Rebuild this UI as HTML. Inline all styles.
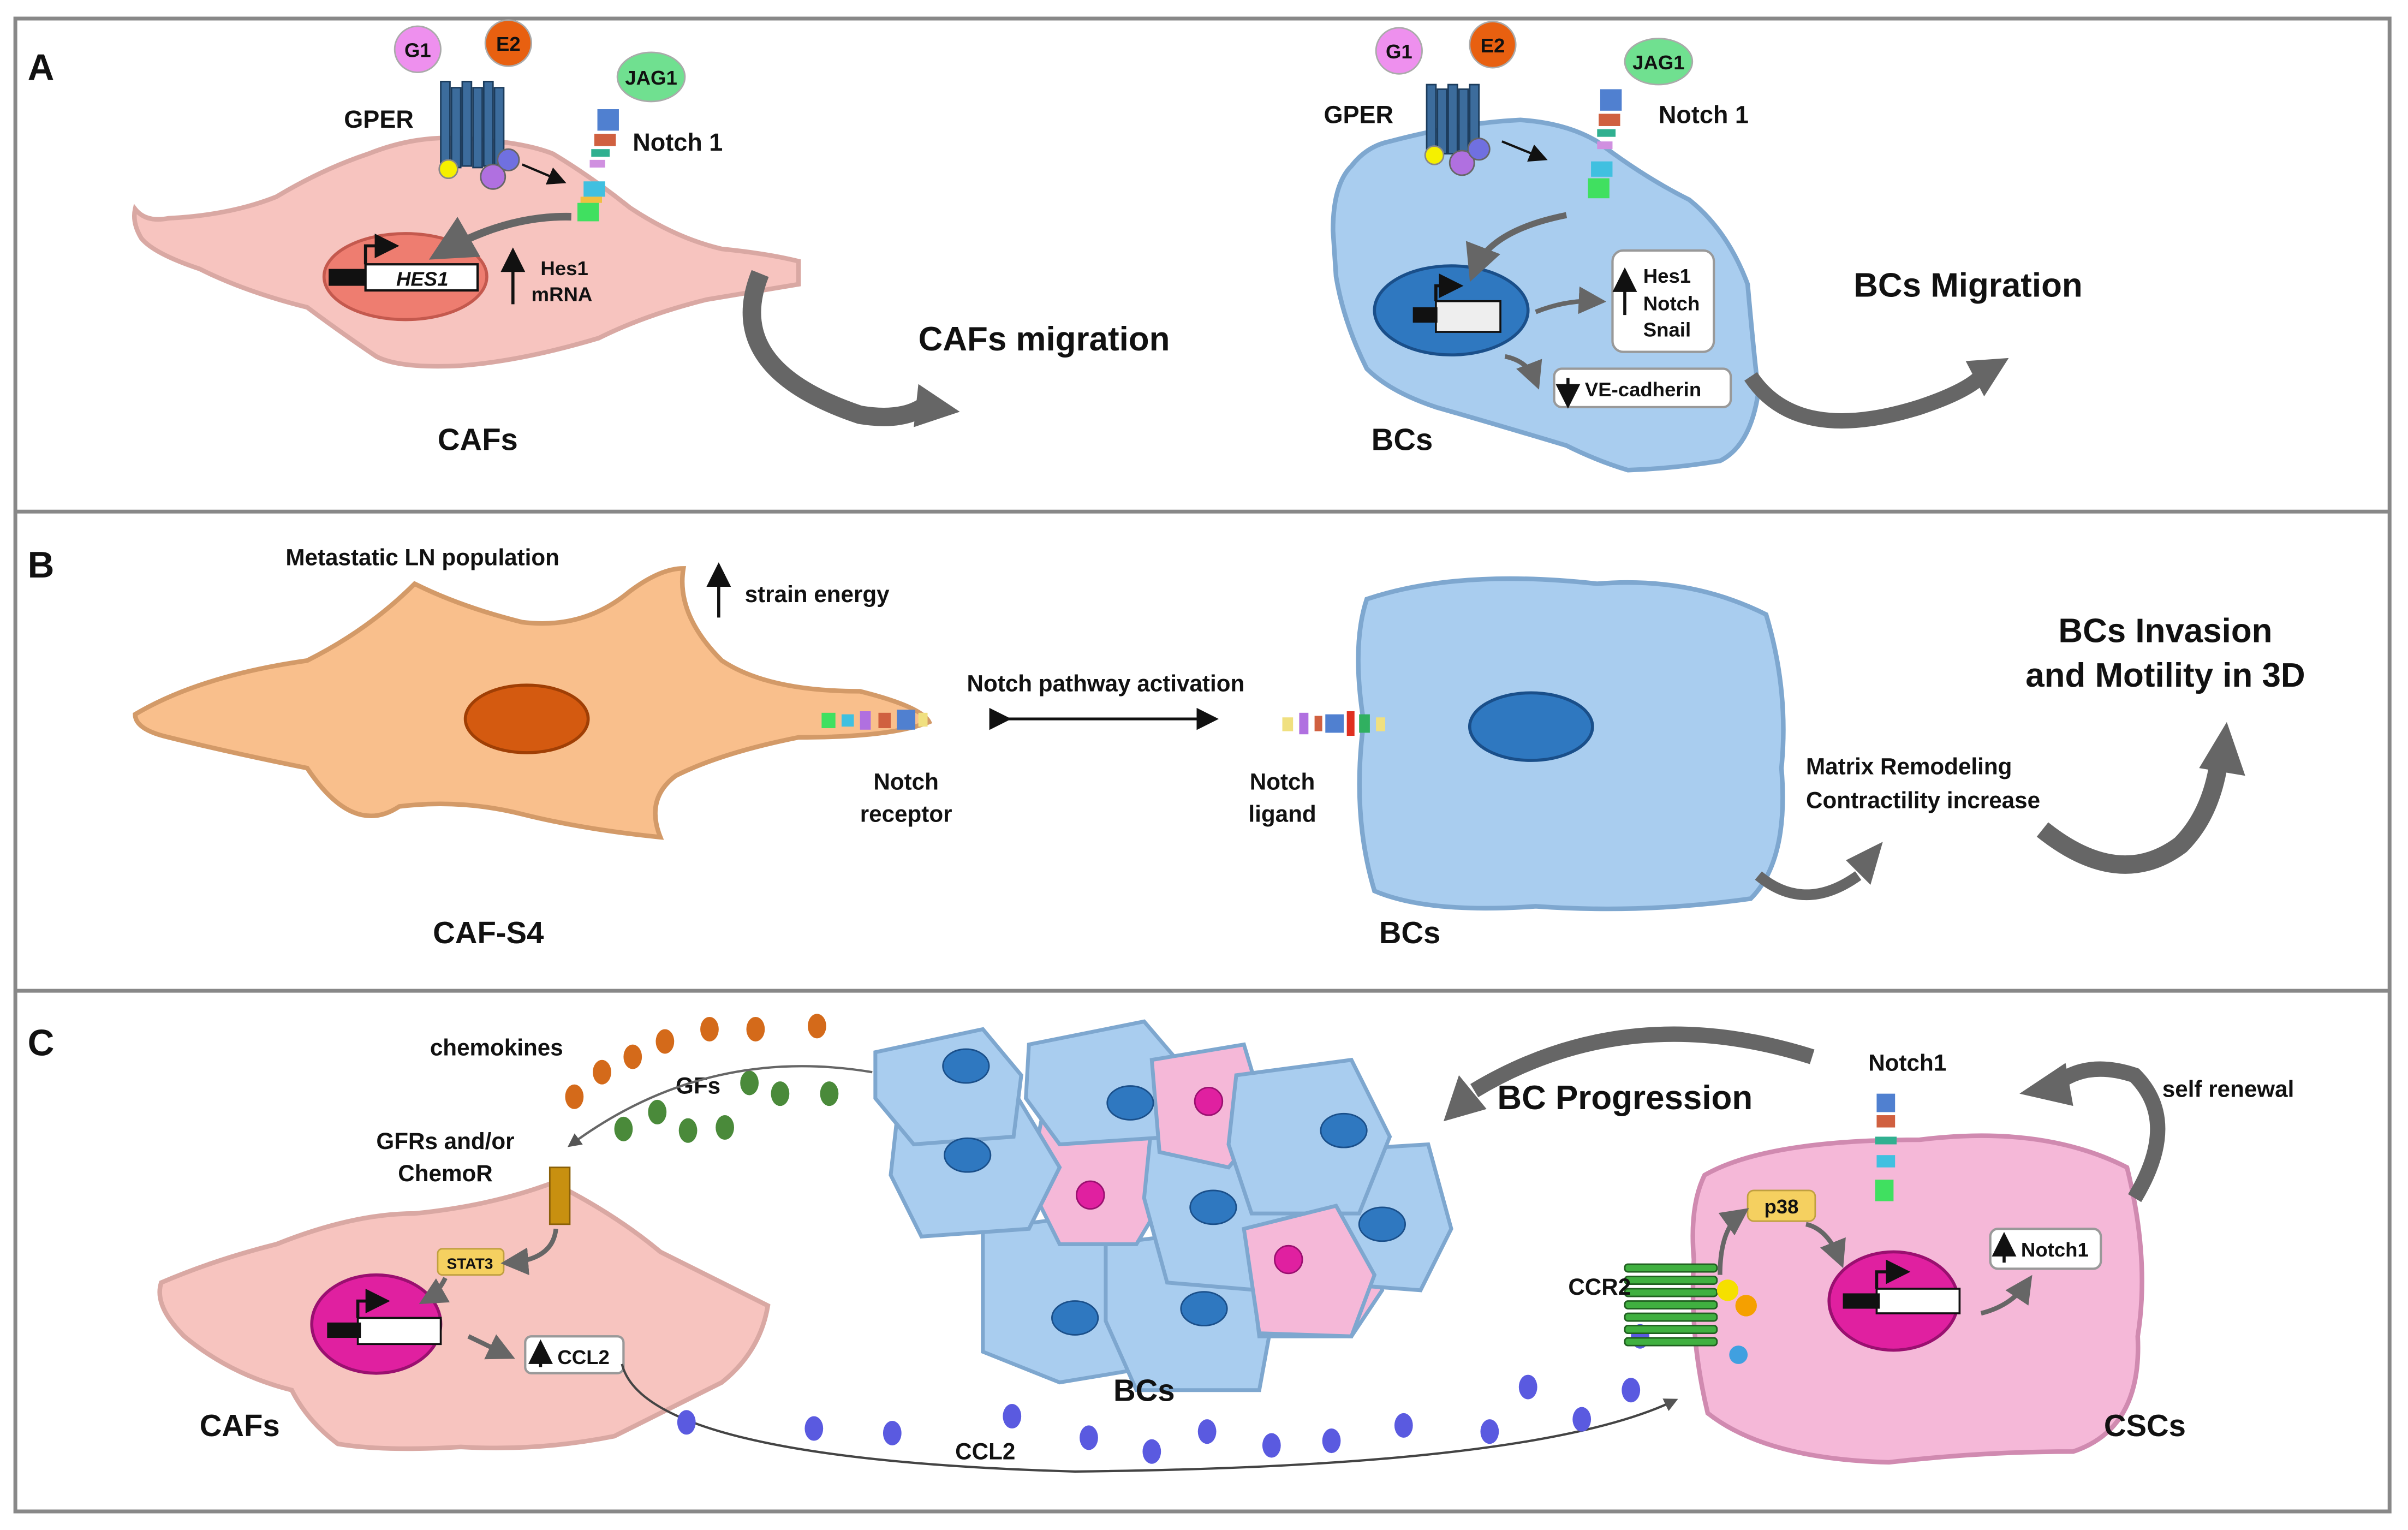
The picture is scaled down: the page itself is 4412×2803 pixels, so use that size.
<!DOCTYPE html>
<html><head><meta charset="utf-8"><style>
html,body{margin:0;padding:0;background:#fff;}
svg{display:block;}
text{font-family:"Liberation Sans",Arial,sans-serif;font-weight:bold;fill:#111;}
</style></head><body>
<svg width="4412" height="2803" viewBox="0 0 1568 996" xmlns="http://www.w3.org/2000/svg">
<defs>
<marker id="ah" markerWidth="8" markerHeight="8" refX="6" refY="4" orient="auto"><path d="M0,0 L8,4 L0,8 z" fill="#111"/></marker>
<marker id="ahg" markerWidth="6" markerHeight="6" refX="4" refY="3" orient="auto"><path d="M0,0 L6,3 L0,6 z" fill="#666"/></marker>
<marker id="ahs" markerWidth="6" markerHeight="6" refX="4" refY="3" orient="auto"><path d="M0,0 L6,3 L0,6 z" fill="#555"/></marker>
</defs>
<rect x="0" y="0" width="1568" height="996" fill="#fff"/>
<rect x="10" y="12" width="1546" height="972" fill="none" stroke="#888" stroke-width="2.5"/>
<line x1="10" y1="333" x2="1556" y2="333" stroke="#888" stroke-width="2.5"/>
<line x1="10" y1="645" x2="1556" y2="645" stroke="#888" stroke-width="2.5"/>

<!-- Panel A -->
<text x="18" y="52" font-size="24">A</text>
<path d="M88,136 Q95,145 110,142 Q150,140 180,128 Q210,110 240,100 Q270,88 300,90 Q340,92 360,100 Q385,115 410,135 Q440,155 470,162 Q500,165 520,170 L520,185 Q490,190 460,195 Q420,205 390,220 Q340,235 300,238 Q260,240 245,232 Q220,215 200,200 Q160,190 130,175 Q100,165 92,155 Q86,145 88,136 Z" fill="#f7c4bf" stroke="#d9a8a3" stroke-width="3"/>
<ellipse cx="264" cy="180" rx="53" ry="28" fill="#ee7d70" stroke="#c4594e" stroke-width="2"/>
<rect x="238" y="172" width="73" height="17" fill="#fff" stroke="#111" stroke-width="1.5"/>
<rect x="214" y="175" width="24" height="11" fill="#111"/>
<path d="M238,172 V160 H256" stroke="#111" stroke-width="2" fill="none" marker-end="url(#ah)"/>
<text x="275" y="186" font-size="13" font-style="italic" text-anchor="middle">HES1</text>
<line x1="334" y1="198" x2="334" y2="165" stroke="#111" stroke-width="2" marker-end="url(#ah)"/>
<text x="352" y="179" font-size="13">Hes1</text>
<text x="346" y="196" font-size="13">mRNA</text>
<path d="M372,141 Q330,140 288,164" stroke="#666" stroke-width="5" fill="none" marker-end="url(#ahg)"/>
<!-- GPER -->
<g fill="#3c6c9c" stroke="#1c3c5c" stroke-width="1">
<rect x="287" y="53" width="6" height="55"/><rect x="294" y="57" width="6" height="52"/><rect x="301" y="53" width="6" height="55"/><rect x="308" y="57" width="6" height="52"/><rect x="315" y="53" width="6" height="55"/><rect x="322" y="57" width="6" height="50"/></g>
<circle cx="292" cy="110" r="6" fill="#f5f000" stroke="#888"/>
<circle cx="321" cy="115" r="8" fill="#b070e0" stroke="#666"/>
<circle cx="331" cy="104" r="7" fill="#7070e0" stroke="#666"/>
<line x1="340" y1="107" x2="366" y2="118" stroke="#111" stroke-width="1.5" marker-end="url(#ah)"/>
<text x="224" y="83" font-size="16">GPER</text>
<circle cx="272" cy="32" r="15" fill="#ee90ee" stroke="#aaa"/><text x="272" y="37" font-size="13" text-anchor="middle">G1</text>
<circle cx="331" cy="28" r="15" fill="#e86010" stroke="#aaa"/><text x="331" y="33" font-size="13" text-anchor="middle">E2</text>
<ellipse cx="424" cy="50" rx="22" ry="16" fill="#70e090" stroke="#aaa"/><text x="424" y="55" font-size="13" text-anchor="middle">JAG1</text>
<g><rect x="389" y="71" width="14" height="14" fill="#5080d0"/><rect x="387" y="87" width="14" height="8" fill="#d06040"/><rect x="385" y="97" width="12" height="5" fill="#30b090"/><rect x="384" y="104" width="10" height="5" fill="#d090e0"/><rect x="380" y="118" width="14" height="10" fill="#40c0e0"/><rect x="378" y="128" width="14" height="4" fill="#f0c040"/><rect x="376" y="132" width="14" height="12" fill="#40e060"/></g>
<text x="412" y="98" font-size="16">Notch 1</text>
<text x="285" y="293" font-size="20">CAFs</text>
<path d="M495,178 Q470,240 560,270 Q590,275 605,262" stroke="#666" stroke-width="12" fill="none"/>
<path d="M598,250 L625,268 L595,278 Z" fill="#666"/>
<text x="598" y="228" font-size="22">CAFs migration</text>

<path d="M868,150 Q868,120 880,108 Q890,95 905,92 Q950,80 990,78 Q1020,80 1040,92 Q1070,115 1100,130 Q1125,150 1138,185 Q1142,230 1145,255 Q1140,290 1120,300 Q1090,305 1060,306 Q1040,300 1020,290 Q970,275 935,265 Q905,255 890,240 Q875,210 870,180 Z" fill="#a9cdef" stroke="#7ea7cf" stroke-width="3"/>
<ellipse cx="945" cy="202" rx="50" ry="29" fill="#2f78c0" stroke="#1a4f8a" stroke-width="2"/>
<rect x="935" y="196" width="42" height="20" fill="#eee" stroke="#111" stroke-width="1.3"/>
<rect x="920" y="200" width="16" height="10" fill="#111"/>
<path d="M935,196 V186 H949" stroke="#111" stroke-width="2" fill="none" marker-end="url(#ah)"/>
<g fill="#3c6c9c" stroke="#1c3c5c" stroke-width="1"><rect x="929" y="55" width="6" height="45"/><rect x="936" y="58" width="6" height="42"/><rect x="943" y="55" width="6" height="45"/><rect x="950" y="58" width="6" height="42"/><rect x="957" y="55" width="6" height="45"/></g>
<circle cx="934" cy="101" r="6" fill="#f5f000" stroke="#888"/><circle cx="952" cy="106" r="8" fill="#b070e0" stroke="#666"/><circle cx="963" cy="97" r="7" fill="#7070e0" stroke="#666"/>
<line x1="978" y1="92" x2="1005" y2="103" stroke="#111" stroke-width="1.5" marker-end="url(#ah)"/>
<text x="862" y="80" font-size="16">GPER</text>
<circle cx="911" cy="33" r="15" fill="#ee90ee" stroke="#aaa"/><text x="911" y="38" font-size="13" text-anchor="middle">G1</text>
<circle cx="972" cy="29" r="15" fill="#e86010" stroke="#aaa"/><text x="972" y="34" font-size="13" text-anchor="middle">E2</text>
<ellipse cx="1080" cy="40" rx="22" ry="15" fill="#70e090" stroke="#aaa"/><text x="1080" y="45" font-size="13" text-anchor="middle">JAG1</text>
<g><rect x="1042" y="58" width="14" height="14" fill="#5080d0"/><rect x="1041" y="74" width="14" height="8" fill="#d06040"/><rect x="1040" y="84" width="12" height="5" fill="#30b090"/><rect x="1040" y="92" width="10" height="5" fill="#d090e0"/><rect x="1036" y="105" width="14" height="10" fill="#40c0e0"/><rect x="1034" y="116" width="14" height="13" fill="#40e060"/></g>
<text x="1080" y="80" font-size="16">Notch 1</text>
<path d="M1020,140 Q970,150 960,176" stroke="#666" stroke-width="4" fill="none" marker-end="url(#ahg)"/>
<rect x="1050" y="163" width="66" height="66" rx="7" fill="#fff" stroke="#999" stroke-width="1.5"/>
<line x1="1058" y1="205" x2="1058" y2="178" stroke="#111" stroke-width="2" marker-end="url(#ah)"/>
<text x="1070" y="184" font-size="13">Hes1</text><text x="1070" y="202" font-size="13">Notch</text><text x="1070" y="219" font-size="13">Snail</text>
<path d="M1000,203 Q1020,195 1040,196" stroke="#666" stroke-width="3" fill="none" marker-end="url(#ahg)"/>
<rect x="1012" y="240" width="115" height="25" rx="5" fill="#fff" stroke="#999" stroke-width="1.5"/>
<line x1="1021" y1="246" x2="1021" y2="262" stroke="#111" stroke-width="2" marker-end="url(#ah)"/>
<text x="1032" y="258" font-size="13">VE-cadherin</text>
<path d="M980,232 Q995,235 1000,248" stroke="#666" stroke-width="3" fill="none" marker-end="url(#ahg)"/>
<text x="893" y="293" font-size="20">BCs</text>
<path d="M1140,245 Q1170,290 1250,265 Q1280,255 1290,245" stroke="#666" stroke-width="10" fill="none"/>
<path d="M1280,235 L1308,233 L1292,258 Z" fill="#666"/>
<text x="1207" y="193" font-size="22">BCs Migration</text>

<!-- Panel B -->
<text x="18" y="376" font-size="24">B</text>
<text x="186" y="368" font-size="15">Metastatic LN population</text>
<line x1="468" y1="402" x2="468" y2="370" stroke="#111" stroke-width="2" marker-end="url(#ah)"/>
<text x="485" y="392" font-size="15">strain energy</text>
<path d="M88,465 Q130,440 200,430 Q240,410 270,380 Q300,395 340,405 Q380,410 410,385 Q430,370 445,370 Q440,400 470,430 Q500,450 560,450 Q600,460 605,470 Q580,480 520,480 Q470,490 440,505 Q420,520 430,545 Q380,540 340,530 Q300,520 260,525 Q230,545 200,500 Q150,490 110,480 Q88,475 88,465 Z" fill="#f9bf8c" stroke="#d39a68" stroke-width="3"/>
<ellipse cx="343" cy="468" rx="40" ry="22" fill="#d45a10" stroke="#a03f05" stroke-width="2"/>
<g><rect x="535" y="464" width="9" height="10" fill="#40e060"/><rect x="548" y="465" width="8" height="8" fill="#40c0e0"/><rect x="560" y="463" width="7" height="12" fill="#b070e0"/><rect x="572" y="464" width="8" height="10" fill="#d06040"/><rect x="584" y="462" width="12" height="13" fill="#5080d0"/><rect x="598" y="464" width="6" height="9" fill="#f0e080"/></g>
<text x="590" y="514" font-size="15" text-anchor="middle">Notch</text>
<text x="590" y="535" font-size="15" text-anchor="middle">receptor</text>
<text x="720" y="450" font-size="15" text-anchor="middle">Notch pathway activation</text>
<line x1="655" y1="468" x2="790" y2="468" stroke="#111" stroke-width="1.8" marker-end="url(#ah)" marker-start="url(#ah)"/>
<path d="M890,390 Q950,370 1040,380 Q1100,375 1150,400 Q1165,450 1160,500 Q1165,560 1140,585 Q1070,595 1000,590 Q930,595 895,580 Q880,530 888,470 Q880,420 890,390 Z" fill="#a9cdef" stroke="#7ea7cf" stroke-width="3"/>
<ellipse cx="997" cy="473" rx="40" ry="22" fill="#2f78c0" stroke="#1a4f8a" stroke-width="2"/>
<g><rect x="835" y="467" width="7" height="9" fill="#f0e080"/><rect x="846" y="464" width="6" height="14" fill="#b070e0"/><rect x="856" y="466" width="5" height="10" fill="#d06040"/><rect x="863" y="465" width="12" height="12" fill="#5080d0"/><rect x="877" y="463" width="5" height="16" fill="#e03020"/><rect x="885" y="465" width="7" height="12" fill="#30b060"/><rect x="896" y="467" width="6" height="9" fill="#f0e080"/></g>
<text x="835" y="514" font-size="15" text-anchor="middle">Notch</text>
<text x="835" y="535" font-size="15" text-anchor="middle">ligand</text>
<text x="918" y="614" font-size="20" text-anchor="middle">BCs</text>
<text x="318" y="614" font-size="20" text-anchor="middle">CAF-S4</text>
<path d="M1145,570 Q1175,595 1210,570" stroke="#666" stroke-width="7" fill="none"/>
<path d="M1202,560 L1226,548 L1218,576 Z" fill="#666"/>
<text x="1176" y="504" font-size="15">Matrix Remodeling</text>
<text x="1176" y="526" font-size="15">Contractility increase</text>
<path d="M1330,540 Q1380,580 1420,550 Q1440,530 1445,495" stroke="#666" stroke-width="12" fill="none"/>
<path d="M1432,500 L1450,470 L1462,505 Z" fill="#666"/>
<text x="1410" y="418" font-size="22" text-anchor="middle">BCs Invasion</text>
<text x="1410" y="447" font-size="22" text-anchor="middle">and Motility in 3D</text>

<!-- Panel C -->
<text x="18" y="687" font-size="24">C</text>
<text x="280" y="687" font-size="15">chemokines</text>
<text x="440" y="712" font-size="15">GFs</text>
<text x="290" y="748" font-size="15" text-anchor="middle">GFRs and/or</text>
<text x="290" y="769" font-size="15" text-anchor="middle">ChemoR</text>
<g fill="#d46a1a"><ellipse cx="374" cy="714" rx="6" ry="8"/><ellipse cx="392" cy="698" rx="6" ry="8"/><ellipse cx="412" cy="688" rx="6" ry="8"/><ellipse cx="433" cy="678" rx="6" ry="8"/><ellipse cx="462" cy="670" rx="6" ry="8"/><ellipse cx="492" cy="670" rx="6" ry="8"/><ellipse cx="532" cy="668" rx="6" ry="8"/></g>
<g fill="#4a8a3a"><ellipse cx="406" cy="735" rx="6" ry="8"/><ellipse cx="428" cy="724" rx="6" ry="8"/><ellipse cx="448" cy="736" rx="6" ry="8"/><ellipse cx="472" cy="734" rx="6" ry="8"/><ellipse cx="488" cy="705" rx="6" ry="8"/><ellipse cx="508" cy="712" rx="6" ry="8"/><ellipse cx="540" cy="712" rx="6" ry="8"/></g>
<path d="M568,698 Q460,680 372,745" stroke="#666" stroke-width="1.5" fill="none" marker-end="url(#ahs)"/>
<path d="M105,835 Q140,820 180,810 Q230,790 270,790 Q320,785 360,770 Q400,790 430,815 Q470,835 500,850 Q495,880 470,900 Q430,920 400,935 Q350,945 300,942 Q250,945 220,940 Q200,925 190,905 Q150,895 120,870 Q100,850 105,835 Z" fill="#f7c4bf" stroke="#d9a8a3" stroke-width="3"/>
<rect x="358" y="760" width="13" height="37" fill="#c89010" stroke="#8a6008"/>
<ellipse cx="245" cy="862" rx="42" ry="32" fill="#e020a0" stroke="#9a1070" stroke-width="2"/>
<rect x="233" y="858" width="54" height="17" fill="#fff" stroke="#111" stroke-width="1.3"/>
<rect x="213" y="861" width="22" height="10" fill="#111"/>
<path d="M233,858 V847 H250" stroke="#111" stroke-width="2" fill="none" marker-end="url(#ah)"/>
<rect x="285" y="813" width="43" height="17" rx="3" fill="#f5d060" stroke="#c0a040"/><text x="306" y="826" font-size="10" text-anchor="middle">STAT3</text>
<path d="M362,800 Q360,820 332,822" stroke="#666" stroke-width="3" fill="none" marker-end="url(#ahg)"/>
<path d="M290,832 Q285,842 278,846" stroke="#666" stroke-width="3" fill="none" marker-end="url(#ahg)"/>
<path d="M305,870 L330,882" stroke="#666" stroke-width="3" fill="none" marker-end="url(#ahg)"/>
<rect x="342" y="870" width="64" height="24" rx="4" fill="#fff" stroke="#999" stroke-width="1.5"/>
<line x1="352" y1="890" x2="352" y2="876" stroke="#111" stroke-width="2" marker-end="url(#ah)"/>
<text x="363" y="888" font-size="13">CCL2</text>
<text x="130" y="935" font-size="20">CAFs</text>
<!-- BCs cluster -->
<g stroke="#7ea7cf" stroke-width="2.5">
<path d="M640,800 L720,790 L760,830 L750,890 L690,900 L640,880 Z" fill="#a9cdef"/>
<path d="M720,810 L800,800 L830,850 L820,905 L740,905 L720,860 Z" fill="#a9cdef"/>
<path d="M810,790 L880,780 L900,840 L880,870 L820,870 Z" fill="#f5b8d8"/>
<path d="M680,720 L750,705 L770,760 L740,810 L690,810 L670,770 Z" fill="#f5b8d8"/>
<path d="M750,730 L830,720 L850,780 L820,840 L760,835 L745,780 Z" fill="#a9cdef"/>
<path d="M850,750 L930,745 L945,800 L925,840 L860,835 L845,790 Z" fill="#a9cdef"/>
<path d="M585,720 L660,710 L690,760 L670,800 L600,805 L580,765 Z" fill="#a9cdef"/>
<path d="M570,685 L640,670 L665,700 L660,740 L595,745 L570,715 Z" fill="#a9cdef"/>
<path d="M670,680 L745,665 L775,700 L765,740 L690,745 L668,715 Z" fill="#a9cdef"/>
<path d="M750,690 L810,680 L825,730 L800,760 L755,750 Z" fill="#f5b8d8"/>
<path d="M805,700 L880,690 L905,740 L885,790 L815,790 L800,745 Z" fill="#a9cdef"/>
<path d="M810,800 L870,785 L895,830 L880,870 L820,868 Z" fill="#f5b8d8"/>
</g>
<g fill="#2f78c0" stroke="#1a4f8a"><ellipse cx="629" cy="694" rx="15" ry="11"/><ellipse cx="736" cy="718" rx="15" ry="11"/><ellipse cx="630" cy="752" rx="15" ry="11"/><ellipse cx="790" cy="786" rx="15" ry="11"/><ellipse cx="875" cy="736" rx="15" ry="11"/><ellipse cx="900" cy="797" rx="15" ry="11"/><ellipse cx="700" cy="858" rx="15" ry="11"/><ellipse cx="784" cy="852" rx="15" ry="11"/></g>
<g fill="#e020a0" stroke="#9a1070"><circle cx="787" cy="717" r="9"/><circle cx="710" cy="778" r="9"/><circle cx="839" cy="820" r="9"/></g>
<text x="745" y="912" font-size="20" text-anchor="middle">BCs</text>
<path d="M405,888 Q420,950 700,958 Q1000,955 1090,912" stroke="#444" stroke-width="1.5" fill="none" marker-end="url(#ahs)"/>
<g fill="#5a5ae0"><ellipse cx="447" cy="926" rx="6" ry="8"/><ellipse cx="530" cy="930" rx="6" ry="8"/><ellipse cx="581" cy="933" rx="6" ry="8"/><ellipse cx="659" cy="922" rx="6" ry="8"/><ellipse cx="709" cy="936" rx="6" ry="8"/><ellipse cx="750" cy="945" rx="6" ry="8"/><ellipse cx="786" cy="932" rx="6" ry="8"/><ellipse cx="828" cy="941" rx="6" ry="8"/><ellipse cx="867" cy="938" rx="6" ry="8"/><ellipse cx="914" cy="928" rx="6" ry="8"/><ellipse cx="970" cy="932" rx="6" ry="8"/><ellipse cx="995" cy="903" rx="6" ry="8"/><ellipse cx="1030" cy="924" rx="6" ry="8"/><ellipse cx="1062" cy="905" rx="6" ry="8"/><ellipse cx="1068" cy="870" rx="6" ry="8"/></g>
<text x="622" y="950" font-size="15">CCL2</text>
<path d="M1180,688 Q1060,650 960,710" stroke="#666" stroke-width="10" fill="none"/>
<path d="M950,700 L940,730 L968,722 Z" fill="#666"/>
<text x="975" y="722" font-size="22">BC Progression</text>
<path d="M1110,765 Q1150,742 1250,742 Q1330,732 1385,760 Q1400,820 1392,870 Q1395,930 1350,945 Q1290,945 1230,952 Q1150,950 1112,920 Q1100,870 1103,820 Q1100,785 1110,765 Z" fill="#f5b8d8" stroke="#d08ab0" stroke-width="3"/>
<ellipse cx="1233" cy="847" rx="42" ry="32" fill="#e020a0" stroke="#9a1070" stroke-width="2"/>
<rect x="1222" y="839" width="54" height="16" fill="#fff" stroke="#111" stroke-width="1.3"/>
<rect x="1200" y="842" width="24" height="10" fill="#111"/>
<path d="M1222,839 V828 H1240" stroke="#111" stroke-width="2" fill="none" marker-end="url(#ah)"/>
<rect x="1138" y="775" width="44" height="20" rx="4" fill="#f5d060" stroke="#c0a040"/><text x="1160" y="790" font-size="13" text-anchor="middle">p38</text>
<path d="M1120,830 Q1120,800 1134,790" stroke="#666" stroke-width="3" fill="none" marker-end="url(#ahg)"/>
<path d="M1176,797 Q1190,800 1198,820" stroke="#666" stroke-width="3" fill="none" marker-end="url(#ahg)"/>
<rect x="1296" y="800" width="72" height="26" rx="5" fill="#fff" stroke="#999" stroke-width="1.5"/>
<line x1="1305" y1="822" x2="1305" y2="806" stroke="#111" stroke-width="2" marker-end="url(#ah)"/>
<text x="1316" y="818" font-size="13">Notch1</text>
<path d="M1290,855 Q1310,850 1320,835" stroke="#666" stroke-width="3" fill="none" marker-end="url(#ahg)"/>
<g><rect x="1222" y="712" width="12" height="12" fill="#5080d0"/><rect x="1222" y="726" width="12" height="8" fill="#d06040"/><rect x="1221" y="740" width="14" height="5" fill="#30b090"/><rect x="1222" y="752" width="12" height="8" fill="#40c0e0"/><rect x="1221" y="768" width="12" height="14" fill="#40e060"/></g>
<text x="1242" y="697" font-size="15" text-anchor="middle">Notch1</text>
<g fill="#40b040" stroke="#206020"><rect x="1058" y="823" width="60" height="5" rx="2"/><rect x="1058" y="831" width="60" height="5" rx="2"/><rect x="1058" y="839" width="60" height="5" rx="2"/><rect x="1058" y="847" width="60" height="5" rx="2"/><rect x="1058" y="855" width="60" height="5" rx="2"/><rect x="1058" y="863" width="60" height="5" rx="2"/><rect x="1058" y="871" width="60" height="5" rx="2"/></g>
<circle cx="1125" cy="840" r="7" fill="#f5e000"/><circle cx="1137" cy="850" r="7" fill="#f5a000"/><circle cx="1132" cy="882" r="6" fill="#40a0e0"/>
<text x="1062" y="843" font-size="15" text-anchor="end">CCR2</text>
<path d="M1390,780 Q1420,730 1390,700 Q1360,690 1340,705" stroke="#666" stroke-width="10" fill="none"/>
<path d="M1345,692 L1315,712 L1350,720 Z" fill="#666"/>
<text x="1408" y="714" font-size="15">self renewal</text>
<text x="1370" y="935" font-size="20">CSCs</text>
</svg>
</body></html>
